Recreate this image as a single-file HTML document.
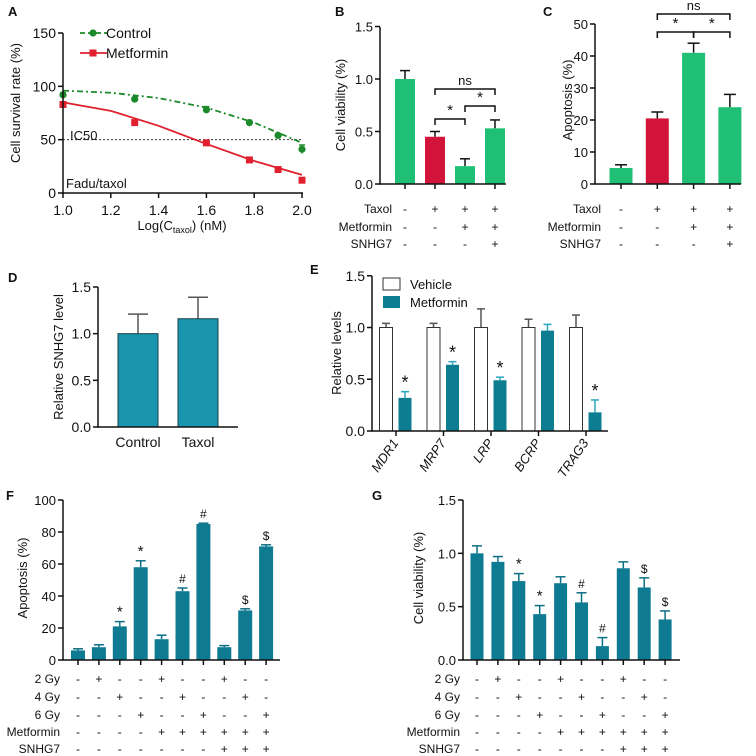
<!DOCTYPE html>
<html><head><meta charset="utf-8"><style>
html,body{margin:0;padding:0;background:#fff}
svg{display:block;font-family:"Liberation Sans",Arial,sans-serif}
</style></head><body>
<svg id="fig" width="756" height="756" viewBox="0 0 756 756" xmlns="http://www.w3.org/2000/svg"></svg>
<script>
// ---------- Panel A data ----------
const aX = [1.0, 1.3, 1.6, 1.78, 1.9, 2.0];
const aControl = [92, 88, 78, 66, 54, 41];
const aControlErr = [2, 1.5, 3, 2, 1.5, 4];
const aMetformin = [83, 66, 47, 31, 22, 12];
const aMetforminErr = [1, 1, 2, 1, 1, 1];
const aFitX = [1.0, 1.2, 1.4, 1.6, 1.8, 2.0];
const aFitControl = [96, 94, 89, 80, 66, 47];
const aFitMetformin = [85, 77, 63, 46, 30, 17];
const aYTicks = [0, 50, 100, 150];
const aXTicks = [1.0, 1.2, 1.4, 1.6, 1.8, 2.0];
// ---------- Panel B ----------
const bValues = [1.0, 0.45, 0.17, 0.53];
const bErr = [0.08, 0.05, 0.07, 0.08];
const bYTicks = [0, 0.5, 1.0, 1.5];
const bRowLabels = ["Taxol", "Metformin", "SNHG7"];
const bRows = [["-","+","+","+"],["-","-","+","+"],["-","-","-","+"]];
// ---------- Panel C ----------
const cValues = [5, 20.5, 41, 24];
const cErr = [1, 2, 3, 4];
const cYTicks = [0, 10, 20, 30, 40, 50];
const cRows = [["-","+","+","+"],["-","-","+","+"],["-","-","-","+"]];
// ---------- Panel D ----------
const dCats = ["Control", "Taxol"];
const dValues = [1.0, 1.16];
const dErr = [0.21, 0.23];
const dYTicks = [0, 0.5, 1.0, 1.5];
// ---------- Panel E ----------
const eCats = ["MDR1", "MRP7", "LRP", "BCRP", "TRAG3"];
const eVehicle = [1, 1, 1, 1, 1];
const eVehicleErr = [0.04, 0.04, 0.18, 0.08, 0.12];
const eMetformin = [0.32, 0.64, 0.49, 0.97, 0.18];
const eMetforminErr = [0.06, 0.03, 0.03, 0.06, 0.12];
const eStars = ["*", "*", "*", "", "*"];
const eYTicks = [0, 0.5, 1.0, 1.5];
// ---------- Panel F ----------
const fValues = [6, 8, 21, 58, 13, 43, 85, 8, 31, 71];
const fErr = [1, 1.5, 3, 4, 2.5, 2, 0.5, 1, 1, 1];
const fMarks = ["", "", "*", "*", "", "#", "#", "", "$", "$"];
const fYTicks = [0, 20, 40, 60, 80, 100];
const gyRowLabels = ["2 Gy", "4 Gy", "6 Gy", "Metformin", "SNHG7"];
const gyRows = [
 ["-","+","-","-","+","-","-","+","-","-"],
 ["-","-","+","-","-","+","-","-","+","-"],
 ["-","-","-","+","-","-","+","-","-","+"],
 ["-","-","-","-","+","+","+","+","+","+"],
 ["-","-","-","-","-","-","-","+","+","+"]];
// ---------- Panel G ----------
const gValues = [1.0, 0.92, 0.74, 0.43, 0.72, 0.54, 0.13, 0.86, 0.68, 0.38];
const gErr = [0.07, 0.05, 0.07, 0.08, 0.06, 0.09, 0.08, 0.06, 0.09, 0.08];
const gMarks = ["", "", "*", "*", "", "#", "#", "", "$", "$"];
const gYTicks = [0, 0.5, 1.0, 1.5];

const NS = "http://www.w3.org/2000/svg";
const svg = document.getElementById("fig");
function el(tag, attrs, parent, name, inter) {
  const e = document.createElementNS(NS, tag);
  for (const k in attrs) e.setAttribute(k, attrs[k]);
  
  
  (parent || svg).appendChild(e);
  return e;
}
function grp(name) { return el("g", {}, svg, name, false); }
function line(g, x1, y1, x2, y2, name, stroke, w, dash) {
  const a = {x1, y1, x2, y2, stroke: stroke || "#111", "stroke-width": w || 1.5};
  if (dash) a["stroke-dasharray"] = dash;
  return el("line", a, g, name, false);
}
function txt(g, x, y, s, name, opts) {
  opts = opts || {};
  const t = el("text", {x, y, "font-size": opts.size || 13, "text-anchor": opts.anchor || "middle", fill: opts.fill || "#111"}, g, name, false);
  if (opts.weight) t.setAttribute("font-weight", opts.weight);
  if (opts.style) t.setAttribute("font-style", opts.style);
  if (opts.transform) t.setAttribute("transform", opts.transform);
  t.textContent = s;
  return t;
}
function fmt(v, d) { return d ? v.toFixed(1) : String(v); }
function yAxis(g, x, y0, y1, ticks, sc, dec, size) {
  line(g, x, y0, x, y1, "y-axis-line");
  ticks.forEach(v => {
    const y = sc(v);
    line(g, x - 5, y, x, y, "y-tick");
    txt(g, x - 7, y + 5, fmt(v, dec), "y-tick-label", {anchor: "end", size: size || 13});
  });
}
function errBar(g, x, yTop, yErr, cap, color) {
  line(g, x, yTop, x, yErr, "error-bar", color || "#111", 1.5);
  line(g, x - cap, yErr, x + cap, yErr, "error-cap", color || "#111", 1.5);
}
function bracket(g, x1, x2, y, label) {
  line(g, x1, y, x2, y, "bracket");
  line(g, x1, y - 0.7, x1, y + 6, "bracket-end");
  line(g, x2, y - 0.7, x2, y + 6, "bracket-end");
  txt(g, (x1 + x2) / 2, y - 4, label, label === "ns" ? "ns-label" : "significance-star", {size: label === "ns" ? 13 : 15});
}

// ================= Panel A =================
(function () {
  const g = grp("panel-a");
  txt(g, 8, 16, "A", "panel-label-a", {anchor: "start", weight: "bold", size: 13});
  const sx = v => 63 + (v - 1.0) * 239;
  const sy = v => 193 - v * 160 / 150;
  line(g, sx(1.0), sy(50), sx(2.0), sy(50), "ic50-line", "#333", 1, "2,2");
  txt(g, 70, 140, "IC50", "ic50-label", {anchor: "start", size: 13});
  txt(g, 66, 188, "Fadu/taxol", "cell-line-label", {anchor: "start", size: 13});
  const pc = aFitX.map((x, i) => sx(x) + "," + sy(aFitControl[i])).join(" ");
  el("polyline", {points: pc, fill: "none", stroke: "#1c8a2a", "stroke-width": 1.8, "stroke-dasharray": "6,3,2,3"}, g, "control-fit-line", false);
  const pm = aFitX.map((x, i) => sx(x) + "," + sy(aFitMetformin[i])).join(" ");
  el("polyline", {points: pm, fill: "none", stroke: "#e0202e", "stroke-width": 1.8}, g, "metformin-fit-line", false);
  aX.forEach((x, i) => {
    errBar(g, sx(x), sy(aControl[i] - aControlErr[i]), sy(aControl[i] + aControlErr[i]), 3, "#1c8a2a");
    el("circle", {cx: sx(x), cy: sy(aControl[i]), r: 3.6, fill: "#1c8a2a"}, g, "control-point", false);
    errBar(g, sx(x), sy(aMetformin[i] - aMetforminErr[i]), sy(aMetformin[i] + aMetforminErr[i]), 3, "#e0202e");
    el("rect", {x: sx(x) - 3.5, y: sy(aMetformin[i]) - 3.5, width: 7, height: 7, fill: "#e0202e"}, g, "metformin-point", false);
  });
  yAxis(g, 63, 33, 193, aYTicks, sy, false, 14);
  line(g, 62, 193, 303, 193, "x-axis-line");
  aXTicks.forEach(v => {
    line(g, sx(v), 193, sx(v), 198, "x-tick");
    txt(g, sx(v), 215, v.toFixed(1), "x-tick-label", {size: 14});
  });
  const xt = txt(g, 182, 230, "", "x-axis-title", {size: 13});
  xt.innerHTML = 'Log(C<tspan font-size="9" dy="3">taxol</tspan><tspan dy="-3">) (nM)</tspan>';
  txt(g, 20, 103, "Cell survival rate (%)", "y-axis-title", {size: 13, transform: "rotate(-90 20 103)"});
  line(g, 80, 33, 107, 33, "legend-control-line", "#1c8a2a", 1.8, "5,3");
  el("circle", {cx: 93, cy: 33, r: 3.6, fill: "#1c8a2a"}, g, "legend-control-marker", false);
  txt(g, 106, 38, "Control", "legend-control-label", {anchor: "start", size: 14});
  line(g, 80, 53, 107, 53, "legend-metformin-line", "#e0202e", 1.8);
  el("rect", {x: 89.5, y: 49.5, width: 7, height: 7, fill: "#e0202e"}, g, "legend-metformin-marker", false);
  txt(g, 106, 58, "Metformin", "legend-metformin-label", {anchor: "start", size: 14});
})();

function signRows(g, xs, rows, labels, labelX, ys, size) {
  labels.forEach((l, r) => {
    txt(g, labelX, ys[r] + 5, l, "row-label-" + l.toLowerCase().replace(/\s/g, ""), {anchor: "end", size: size});
    rows[r].forEach((s, i) => txt(g, xs[i], ys[r] + 5, s, "row-sign", {size: size}));
  });
}

// ================= Panel B =================
(function () {
  const g = grp("panel-b");
  txt(g, 335, 16, "B", "panel-label-b", {anchor: "start", weight: "bold"});
  const sy = v => 184 - v * 105;
  const xs = bValues.map((_, i) => 405 + i * 30);
  const cols = ["#1fbf76", "#d2143a", "#1fbf76", "#1fbf76"];
  bValues.forEach((v, i) => {
    errBar(g, xs[i], sy(v), sy(v + bErr[i]), 5);
    el("rect", {x: xs[i] - 10, y: sy(v), width: 20, height: 184 - sy(v), fill: cols[i]}, g, "bar-b-" + (i + 1), false);
  });
  yAxis(g, 380, 27, 184, bYTicks, sy, true, 13);
  line(g, 379, 184, 506, 184, "x-axis-line");
  xs.forEach(x => line(g, x, 184, x, 189, "x-tick"));
  txt(g, 345, 105, "Cell viability (%)", "y-axis-title", {size: 13, transform: "rotate(-90 345 105)"});
  bracket(g, xs[1], xs[3], 89, "ns");
  bracket(g, xs[1], xs[2], 119, "*");
  bracket(g, xs[2], xs[3], 106, "*");
  signRows(g, xs, bRows, bRowLabels, 392, [208, 226, 243], 12);
})();

// ================= Panel C =================
(function () {
  const g = grp("panel-c");
  txt(g, 543, 16, "C", "panel-label-c", {anchor: "start", weight: "bold"});
  const sy = v => 184 - v * 3.2;
  const xs = cValues.map((_, i) => 621 + i * 36.3);
  const cols = ["#1fbf76", "#d2143a", "#1fbf76", "#1fbf76"];
  cValues.forEach((v, i) => {
    errBar(g, xs[i], sy(v), sy(v + cErr[i]), 6);
    el("rect", {x: xs[i] - 11.5, y: sy(v), width: 23, height: 184 - sy(v), fill: cols[i]}, g, "bar-c-" + (i + 1), false);
  });
  yAxis(g, 595, 24, 184, cYTicks, sy, false, 13);
  line(g, 594, 184, 741, 184, "x-axis-line");
  xs.forEach(x => line(g, x, 184, x, 189, "x-tick"));
  txt(g, 572, 100, "Apoptosis (%)", "y-axis-title", {size: 13, transform: "rotate(-90 572 100)"});
  bracket(g, xs[1], xs[3], 14, "ns");
  bracket(g, xs[1], xs[2], 32, "*");
  bracket(g, xs[2], xs[3], 32, "*");
  signRows(g, xs, cRows, bRowLabels, 601, [208, 226, 243], 12);
})();

// ================= Panel D =================
(function () {
  const g = grp("panel-d");
  txt(g, 8, 282, "D", "panel-label-d", {anchor: "start", weight: "bold"});
  const sy = v => 427 - v * 140 / 1.5;
  const xs = dValues.map((_, i) => 138 + i * 60);
  dValues.forEach((v, i) => {
    errBar(g, xs[i], sy(v), sy(v + dErr[i]), 10, "#555");
    el("rect", {x: xs[i] - 20, y: sy(v), width: 40, height: 427 - sy(v), fill: "#1996ae", stroke: "#1a3f48", "stroke-width": 1}, g, "bar-d-" + dCats[i].toLowerCase(), false);
    txt(g, xs[i], 447, dCats[i], "x-tick-label", {size: 14});
  });
  yAxis(g, 98, 287, 427, dYTicks, sy, true, 14);
  line(g, 97, 427, 238, 427, "x-axis-line");
  txt(g, 63, 357, "Relative SNHG7 level", "y-axis-title", {size: 13, transform: "rotate(-90 63 357)"});
})();

// ================= Panel E =================
(function () {
  const g = grp("panel-e");
  txt(g, 310, 274, "E", "panel-label-e", {anchor: "start", weight: "bold"});
  const sy = v => 431 - v * 103.5;
  const cx = eCats.map((_, i) => 396 + i * 47.5);
  eCats.forEach((c, i) => {
    const xv = cx[i] - 10, xm = cx[i] + 9;
    errBar(g, xv, sy(eVehicle[i]), sy(eVehicle[i] + eVehicleErr[i]), 4, "#555");
    el("rect", {x: xv - 6.5, y: sy(eVehicle[i]), width: 13, height: 431 - sy(eVehicle[i]), fill: "#fff", stroke: "#333", "stroke-width": 1}, g, "bar-vehicle-" + c.toLowerCase(), false);
    errBar(g, xm, sy(eMetformin[i]), sy(eMetformin[i] + eMetforminErr[i]), 4, "#2aa6bd");
    el("rect", {x: xm - 6.5, y: sy(eMetformin[i]), width: 13, height: 431 - sy(eMetformin[i]), fill: "#0d7d92"}, g, "bar-metformin-" + c.toLowerCase(), false);
    if (eStars[i]) txt(g, xm, sy(eMetformin[i] + eMetforminErr[i]) - 3, eStars[i], "significance-star", {size: 18});
    line(g, cx[i], 431, cx[i], 436, "x-tick");
    txt(g, cx[i] + 3, 443, c, "x-tick-label-" + c.toLowerCase(), {anchor: "end", size: 13, style: "italic", transform: "rotate(-55 " + (cx[i] + 3) + " 443)"});
  });
  yAxis(g, 372, 276, 431, eYTicks, sy, true, 14);
  line(g, 371, 431, 608, 431, "x-axis-line");
  txt(g, 341, 353, "Relative  levels", "y-axis-title", {size: 13, transform: "rotate(-90 341 353)"});
  el("rect", {x: 383, y: 278, width: 17, height: 12, fill: "#fff", stroke: "#333", "stroke-width": 1}, g, "legend-vehicle-swatch", false);
  txt(g, 410, 289, "Vehicle", "legend-vehicle-label", {anchor: "start", size: 13});
  el("rect", {x: 383, y: 296, width: 17, height: 12, fill: "#0d7d92"}, g, "legend-metformin-swatch", false);
  txt(g, 410, 307, "Metformin", "legend-metformin-label", {anchor: "start", size: 13});
})();

// ================= Panels F / G =================
function radPanel(name, label, lx, axisX, xs, vals, errs, marks, yTicks, sy, dec, yTitle, titleX, labelRight, axisEnd, bw) {
  const g = grp(name);
  txt(g, lx, 500, label, "panel-label-" + label.toLowerCase(), {anchor: "start", weight: "bold"});
  vals.forEach((v, i) => {
    errBar(g, xs[i], sy(v), sy(v + errs[i]), 5, "#0d6f84");
    el("rect", {x: xs[i] - bw / 2, y: sy(v), width: bw, height: 660 - sy(v), fill: "#0f7b92"}, g, "bar-" + label.toLowerCase() + "-" + (i + 1), false);
    if (marks[i]) txt(g, xs[i], sy(v + errs[i]) - 5, marks[i], "significance-mark", {size: marks[i] === "*" ? 15 : 12});
    line(g, xs[i], 660, xs[i], 665, "x-tick");
  });
  yAxis(g, axisX, 500, 660, yTicks, sy, dec, 13);
  line(g, axisX - 1, 660, axisEnd, 660, "x-axis-line");
  txt(g, titleX, 578, yTitle, "y-axis-title", {size: 13, transform: "rotate(-90 " + titleX + " 578)"});
  signRows(g, xs, gyRows, gyRowLabels, labelRight, [678, 696, 714, 731, 748], 12);
}
radPanel("panel-f", "F", 6, 63, fValues.map((_, i) => 78 + i * 20.9), fValues, fErr, fMarks, fYTicks, v => 660 - v * 1.6, false, "Apoptosis (%)", 27, 60, 280, 14);
radPanel("panel-g", "G", 372, 463, gValues.map((_, i) => 477 + i * 20.9), gValues, gErr, gMarks, gYTicks, v => 660 - v * 160 / 1.5, true, "Cell viability (%)", 423, 460, 680, 13);
</script>
</body></html>
